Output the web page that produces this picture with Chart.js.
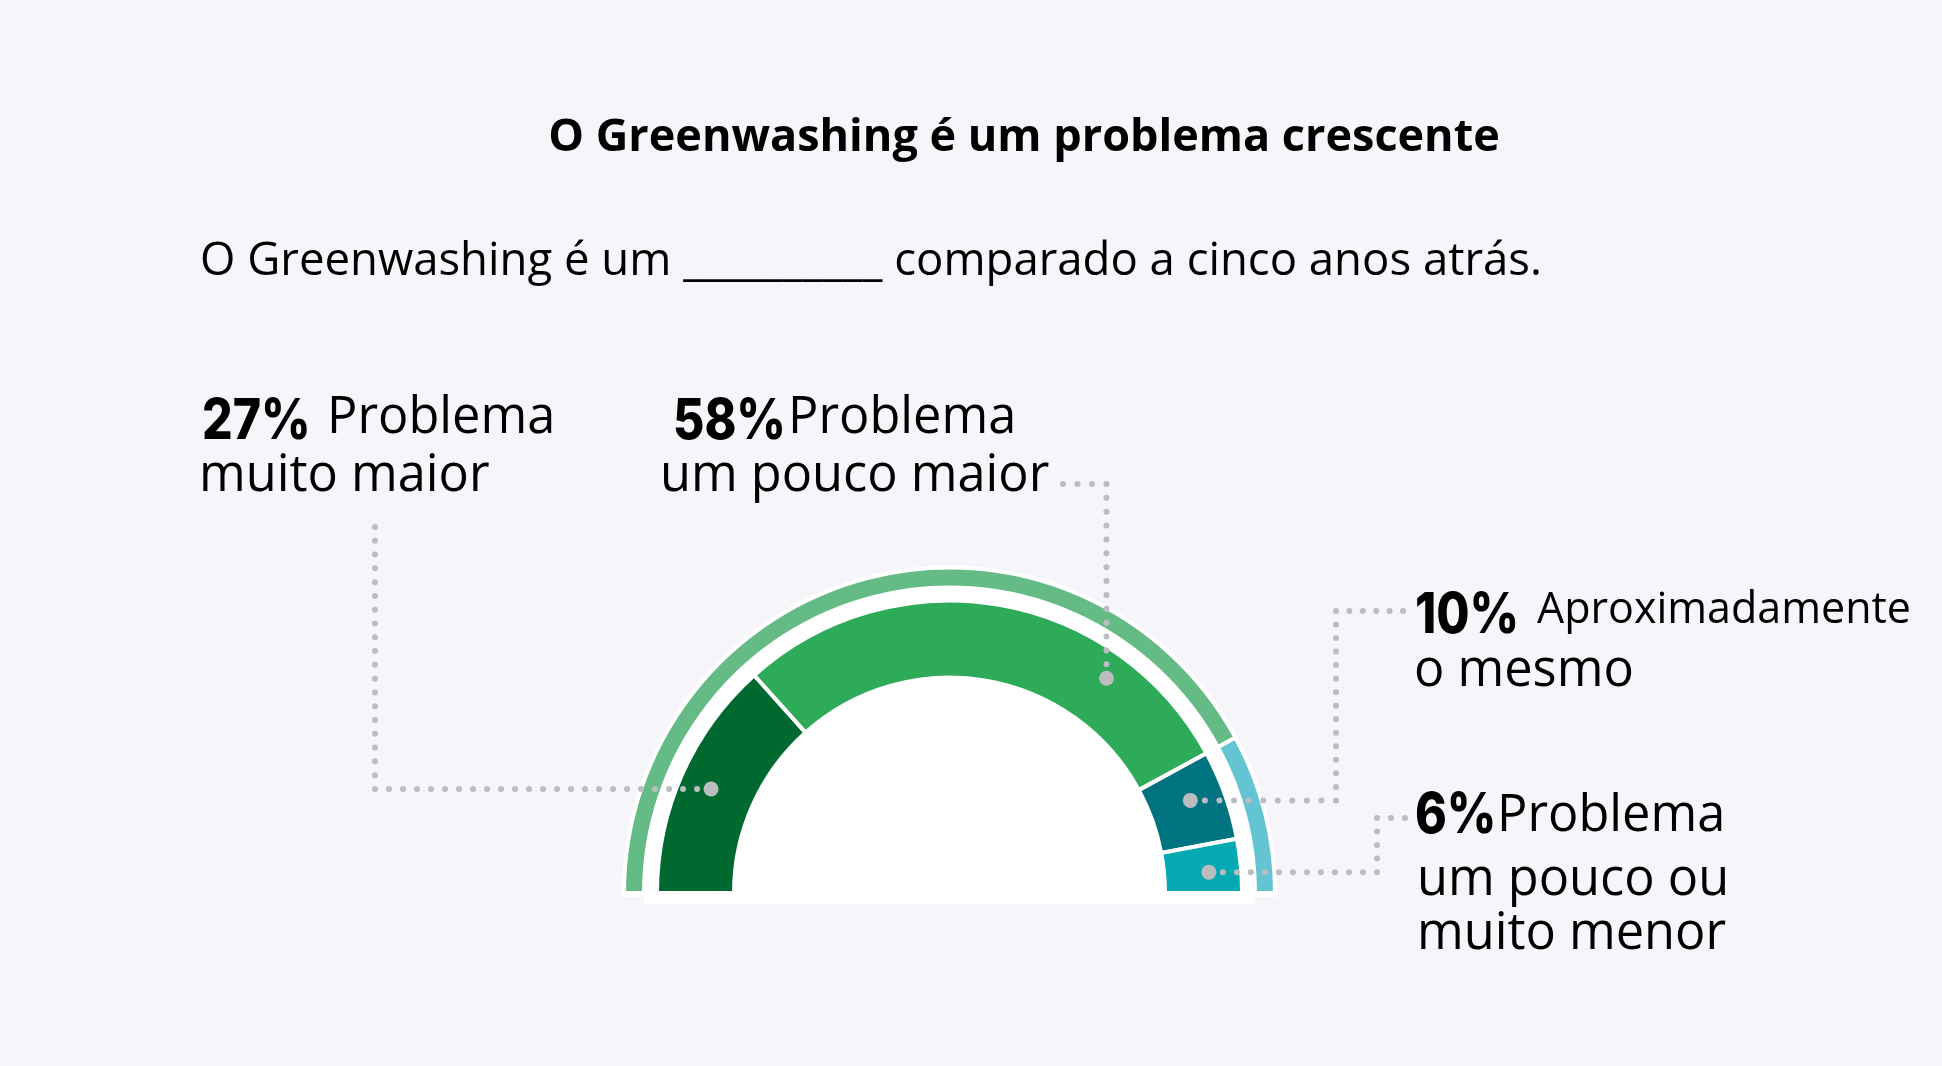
<!DOCTYPE html>
<html>
<head>
<meta charset="utf-8">
<script src="https://cdn.jsdelivr.net/npm/chart.js"></script>
<style>
    body { margin: 0; background: #f5f5fa; }
    #wrap { position: relative; width: 1942px; height: 1066px; overflow: hidden; background: #f5f5fa; }
    #gauge { position: absolute; left: 0; top: 0; }
    .txt { position: absolute; white-space: nowrap; line-height: 1; color: #000; font-family: "Open Sans", sans-serif; }
    .pct { font-family: "Inter", sans-serif; font-weight: 800; transform: scaleX(0.86); transform-origin: left center; }
</style>
</head>
<body>
<div id="wrap">
    <canvas id="gauge" width="1942" height="1066"></canvas>
</div>
<script>
// data
const labelLines = [
    ["Problema", "muito maior"],
    ["Problema", "um pouco maior"],
    ["Aproximadamente", "o mesmo"],
    ["Problema", "um pouco ou", "muito menor"]
]
const categories = labelLines.map(l => l.join(" "))
const values = [27, 58, 10, 6]
const outerGroup = [0, 0, 1, 1]   // outer ring: "maior" vs the rest
const titleText = "O Greenwashing é um problema crescente"
const subtitleText = "O Greenwashing é um __________ comparado a cinco anos atrás."

const innerColors = ["#00692f", "#2eab59", "#007380", "#05a9b1"]
const outerColors = ["#65bb85", "#64c4d2"]

const outerValues = [0, 0]
values.forEach((v, i) => { outerValues[outerGroup[i]] += v })

// text layout: [x, baseline]
const labelLayout = [
    { pct: [202, 439], lines: [[327, 434], [199, 492]], sizes: [50.5, 50.5] },
    { pct: [673, 439], lines: [[788, 434], [660, 492]], sizes: [50.5, 50.5] },
    { pct: [1415, 633], lines: [[1537, 623], [1414, 687]], sizes: [43, 50.5] },
    { pct: [1415, 833], lines: [[1497, 832], [1417, 896], [1417, 950]], sizes: [50.5, 50.5, 50.5] }
]
// leader lines: start point, elbow, anchor on arc [angle fraction, radial fraction]
const leaders = [
    { start: [375, 527], route: "v", anchor: [0.49, 0.58] },
    { start: [1063, 484], route: "h", anchor: [0.755, 0.656] },
    { start: [1403, 611], elbowX: 1336, anchor: [0.42, 0.552] },
    { start: [1405, 818], elbowX: 1377, anchor: [0.57, 0.58] }
]

const wrap = document.querySelector("#wrap")

function addText(str, x, baseline, size, cls, k) {
    const d = document.createElement("div")
    d.className = "txt " + (cls || "")
    d.textContent = str
    d.style.fontSize = size + "px"
    d.style.left = x + "px"
    d.style.top = (baseline - k * size) + "px"
    wrap.appendChild(d)
    return d
}

const OPEN = 0.888
const INTER = 0.8633

const t = addText(titleText, 1024, 151, 45, "", OPEN)
t.style.fontWeight = "700"
t.style.transform = "translateX(-50%)"
addText(subtitleText, 200, 275, 45.5, "", OPEN)

labelLines.forEach((lines, i) => {
    const lay = labelLayout[i]
    addText(values[i] + "%", lay.pct[0], lay.pct[1], 56, "pct", INTER)
    lines.forEach((ln, j) => {
        addText(ln, lay.lines[j][0], lay.lines[j][1], lay.sizes[j], "", OPEN)
    })
})

// white backing under the gauge
const backing = {
    id: "backing",
    beforeDatasetsDraw(chart) {
        const a = chart.getDatasetMeta(0).data[0]
        if (!a) return
        const ctx = chart.ctx
        const cx = a.x, cy = a.y
        ctx.save()
        ctx.fillStyle = "#ffffff"
        ctx.beginPath()
        ctx.arc(cx, cy + 4, a.outerRadius + 2, Math.PI, 2 * Math.PI)
        ctx.closePath()
        ctx.fill()
        ctx.fillRect(cx - a.innerRadius, cy, a.innerRadius * 2, 11)
        ctx.restore()
    }
}

function dotPath(ctx, pts) {
    ctx.fillStyle = "#bbbdc1"
    for (let s = 0; s < pts.length - 1; s++) {
        const [x0, y0] = pts[s], [x1, y1] = pts[s + 1]
        const len = Math.hypot(x1 - x0, y1 - y0)
        const n = Math.max(1, Math.round(len / 14))
        for (let k = 0; k < n; k++) {
            const f = k / n
            ctx.beginPath()
            ctx.arc(x0 + (x1 - x0) * f, y0 + (y1 - y0) * f, 3, 0, 2 * Math.PI)
            ctx.fill()
        }
    }
    const end = pts[pts.length - 1]
    ctx.beginPath()
    ctx.arc(end[0], end[1], 7.5, 0, 2 * Math.PI)
    ctx.fill()
}

const leaderPlugin = {
    id: "leaders",
    afterDatasetsDraw(chart) {
        const m = chart.getDatasetMeta(2)
        const ctx = chart.ctx
        ctx.save()
        leaders.forEach((ld, i) => {
            const a = m.data[i]
            const ang = a.startAngle + ld.anchor[0] * (a.endAngle - a.startAngle)
            const r = a.innerRadius + ld.anchor[1] * (a.outerRadius - a.innerRadius)
            const p = [a.x + r * Math.cos(ang), a.y + r * Math.sin(ang)]
            let pts
            if (ld.route === "v") pts = [ld.start, [ld.start[0], p[1]], p]
            else if (ld.route === "h") pts = [ld.start, [p[0], ld.start[1]], p]
            else pts = [ld.start, [ld.elbowX, ld.start[1]], [ld.elbowX, p[1]], p]
            dotPath(ctx, pts)
        })
        ctx.restore()
    }
}

const ctx = document.querySelector("#gauge").getContext("2d")

const gaugeData = {
    labels: categories,
    datasets: [
        {
            label: "grupo",
            data: outerValues,
            backgroundColor: outerColors,
            borderColor: "#ffffff",
            borderWidth: 4,
            weight: 20
        },
        {
            label: "espaco",
            data: [1],
            backgroundColor: "rgba(0,0,0,0)",
            borderWidth: 0,
            weight: 13
        },
        {
            label: "resposta",
            data: values,
            backgroundColor: innerColors,
            borderColor: "#ffffff",
            borderWidth: 4,
            weight: 77
        }
    ]
}

const gauge = new Chart(ctx, {
    type: "doughnut",
    data: gaugeData,
    options: {
        responsive: false,
        animation: false,
        events: [],
        rotation: -90,
        circumference: 180,
        radius: 325.5,
        cutout: "66.206%",
        layout: { padding: { left: 0, right: 43, top: 394.5, bottom: 0 } },
        plugins: { legend: { display: false }, tooltip: { enabled: false } }
    },
    plugins: [backing, leaderPlugin]
})
</script>
</body>
</html>
